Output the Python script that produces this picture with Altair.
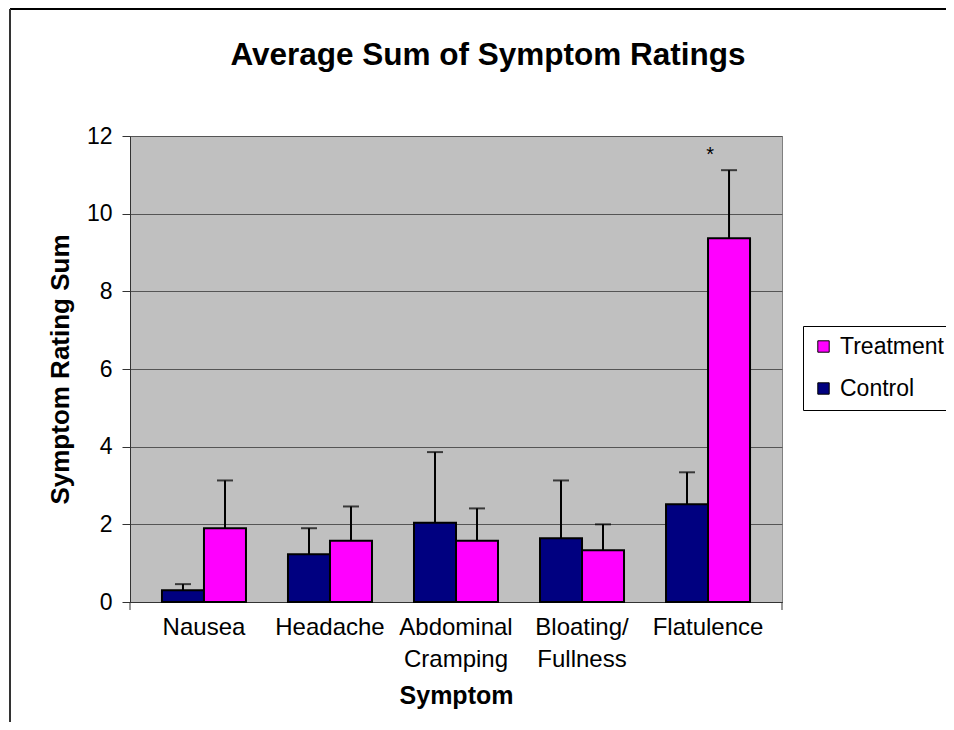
import altair as alt
import pandas as pd

categories = ["Nausea", "Headache", "Abdominal Cramping", "Bloating/ Fullness", "Flatulence"]
groups = ["Control", "Treatment"]
legend_order = ["Treatment", "Control"]
group_colors = ["#FF00FF", "#000080"]
control_mean = [0.30, 1.23, 2.04, 1.64, 2.52]
control_upper = [0.46, 1.90, 3.86, 3.13, 3.34]
treatment_mean = [1.90, 1.58, 1.58, 1.33, 9.37]
treatment_upper = [3.13, 2.46, 2.41, 2.00, 11.12]
y_ticks = [0, 2, 4, 6, 8, 10, 12]

annot_category = ["Flatulence"]
annot_group = ["Treatment"]
annot_value = [11.5]
annot_text = ["*"]

rows = []
for i, c in enumerate(categories):
    rows.append({"Symptom": c, "Group": "Control", "Value": control_mean[i], "Upper": control_upper[i]})
    rows.append({"Symptom": c, "Group": "Treatment", "Value": treatment_mean[i], "Upper": treatment_upper[i]})
df = pd.DataFrame(rows)
df_annot = pd.DataFrame({"Symptom": annot_category, "Group": annot_group,
                         "Value": annot_value, "Text": annot_text})

W, H = 652, 466
FONT = "Arial, Liberation Sans, sans-serif"

x_axis = alt.Axis(title="Symptom", labelAngle=0, labelExpr="split(datum.label, ' ')",
                  ticks=False, labelFontSize=24, labelLineHeight=32, labelPadding=13,
                  titleFontSize=25, titleFontWeight="bold", titlePadding=12,
                  domainColor="#333333", domainWidth=1, labelColor="black", titleColor="black",
                  labelFont=FONT, titleFont=FONT)
x_enc = alt.X("Symptom:N", sort=categories,
              scale=alt.Scale(paddingInner=0, paddingOuter=0.087), axis=x_axis)
xo_enc = alt.XOffset("Group:N", sort=groups, scale=alt.Scale(paddingInner=0, paddingOuter=0.5))

y_scale = alt.Scale(domain=[0, 12], nice=False)
y_axis = alt.Axis(title="Symptom Rating Sum", values=y_ticks, grid=True, gridColor="#555555",
                  gridWidth=1, tickSize=8, tickColor="#333333", domainColor="#333333",
                  labelFontSize=23, labelPadding=10, labelColor="black",
                  titleFontSize=26, titleFontWeight="bold", titleColor="black", titlePadding=13,
                  labelFont=FONT, titleFont=FONT)

color_enc = alt.Color("Group:N",
                      scale=alt.Scale(domain=legend_order, range=group_colors),
                      legend=alt.Legend(title=None, orient="none", legendX=673, legendY=190,
                                        symbolType="square", symbolSize=130,
                                        symbolStrokeColor="black", symbolStrokeWidth=1,
                                        labelFontSize=23, labelFont=FONT, labelColor="black",
                                        labelOffset=5, rowPadding=18, padding=9,
                                        strokeColor="black", fillColor="white"))

base = alt.Chart(df)

bars = base.mark_bar(stroke="black", strokeWidth=2).encode(
    x=x_enc, xOffset=xo_enc,
    y=alt.Y("Value:Q", scale=y_scale, axis=y_axis, title="Symptom Rating Sum"),
    color=color_enc)

err = base.mark_rule(color="black", strokeWidth=2).encode(
    x=x_enc, xOffset=xo_enc,
    y=alt.Y("Value:Q", scale=y_scale, axis=y_axis, title="Symptom Rating Sum"),
    y2="Upper:Q")

caps = base.mark_tick(color="black", thickness=2, size=16).encode(
    x=x_enc, xOffset=xo_enc,
    y=alt.Y("Upper:Q", scale=y_scale, axis=y_axis, title="Symptom Rating Sum"))

star = alt.Chart(df_annot).mark_text(dx=-19, fontSize=20, font=FONT, color="black",
                                     baseline="middle").encode(
    x=x_enc, xOffset=xo_enc,
    y=alt.Y("Value:Q", scale=y_scale, axis=y_axis, title="Symptom Rating Sum"),
    text="Text:N")

border_top = alt.Chart(alt.Data(values=[{}])).mark_rule(color="black", strokeWidth=2).encode(
    x=alt.value(-120), x2=alt.value(W + 200), y=alt.value(-127))
border_left = alt.Chart(alt.Data(values=[{}])).mark_rule(color="#333333", strokeWidth=2).encode(
    x=alt.value(-120), y=alt.value(-127), y2=alt.value(H + 200))
end_ticks = alt.Chart(alt.Data(values=[{}])).mark_rule(color="#333333", strokeWidth=1).encode(
    x=alt.value(0), y=alt.value(H), y2=alt.value(H + 8))
end_ticks2 = alt.Chart(alt.Data(values=[{}])).mark_rule(color="#333333", strokeWidth=1).encode(
    x=alt.value(W), y=alt.value(H), y2=alt.value(H + 8))

chart = alt.layer(bars, err, caps, star, border_top, border_left, end_ticks, end_ticks2).properties(
    width=W, height=H,
    autosize=alt.AutoSizeParams(type="none"),
    padding={"left": 122, "top": 128, "right": 164, "bottom": 120},
    title=alt.Title("Average Sum of Symptom Ratings", fontSize=31.5, fontWeight="bold", font=FONT,
                    anchor="middle", dx=32, offset=-63, color="black"),
).configure_view(fill="#C0C0C0", stroke="#808080")

chart.save("out.html", embed_options={"renderer": "svg", "actions": False})
